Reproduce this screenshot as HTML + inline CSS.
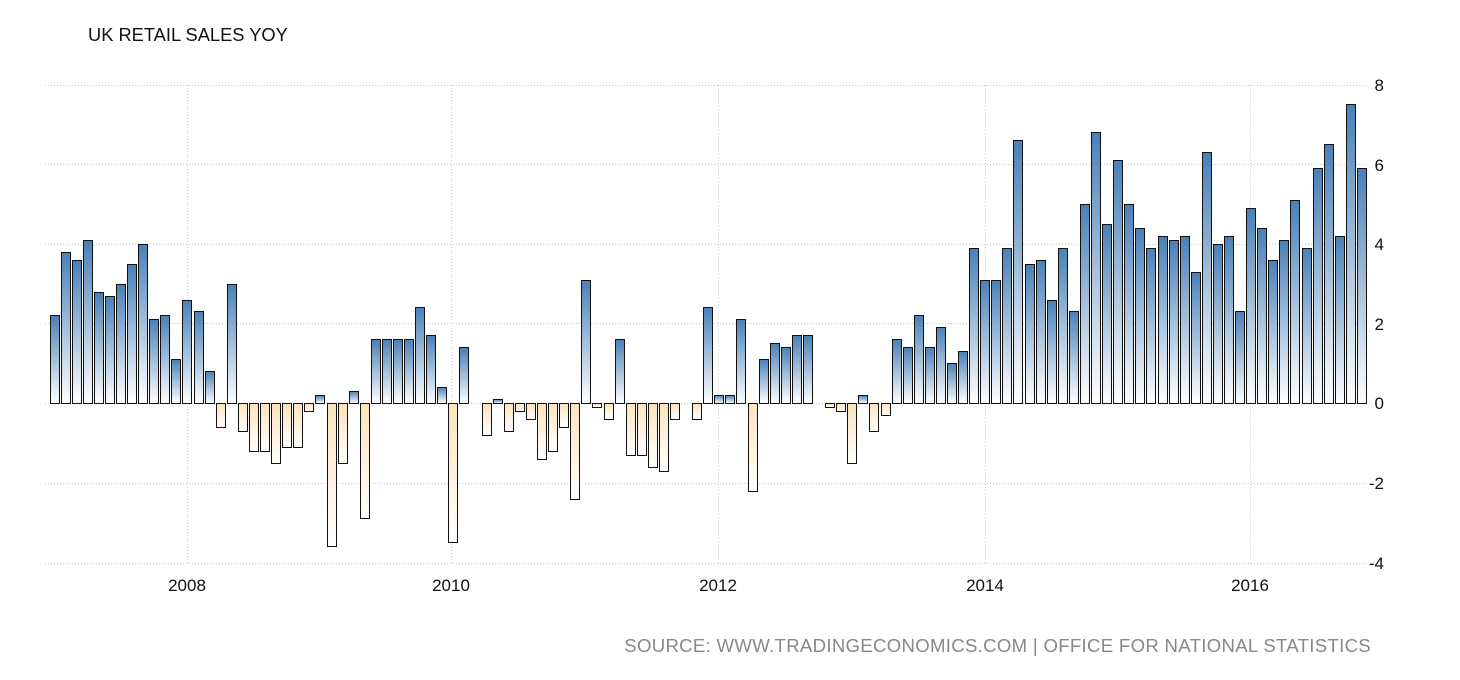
<!DOCTYPE html>
<html><head><meta charset="utf-8"><style>
body{margin:0;background:#fff;width:1460px;height:680px;overflow:hidden;font-family:"Liberation Sans",sans-serif}
svg{display:block}
</style></head><body>
<svg width="1460" height="680" xmlns="http://www.w3.org/2000/svg">
<defs>
<linearGradient id="gp" x1="0" y1="0" x2="0" y2="1"><stop offset="0" stop-color="#4a80b8"/><stop offset="1" stop-color="#ffffff"/></linearGradient>
<linearGradient id="gn" x1="0" y1="0" x2="0" y2="1"><stop offset="0" stop-color="#fbe3bd"/><stop offset="1" stop-color="#ffffff"/></linearGradient>
</defs>
<text x="88" y="41" font-size="18.3" fill="#111">UK RETAIL SALES YOY</text>
<g stroke="#ccc" stroke-dasharray="1,2">
<line x1="45" x2="1368" y1="85.5" y2="85.5"/>
<line x1="45" x2="1368" y1="164.5" y2="164.5"/>
<line x1="45" x2="1368" y1="244.5" y2="244.5"/>
<line x1="45" x2="1368" y1="323.5" y2="323.5"/>
<line x1="45" x2="1368" y1="403.5" y2="403.5"/>
<line x1="45" x2="1368" y1="483.5" y2="483.5"/>
<line x1="45" x2="1368" y1="563.5" y2="563.5"/>
<line x1="187.5" x2="187.5" y1="85" y2="563"/>
<line x1="451.5" x2="451.5" y1="85" y2="563"/>
<line x1="718.5" x2="718.5" y1="85" y2="563"/>
<line x1="985.5" x2="985.5" y1="85" y2="563"/>
<line x1="1250.5" x2="1250.5" y1="85" y2="563"/>
</g>
<g font-size="17" fill="#111" text-anchor="end">
<text x="1384" y="91">8</text>
<text x="1384" y="171">6</text>
<text x="1384" y="250">4</text>
<text x="1384" y="330">2</text>
<text x="1384" y="409">0</text>
<text x="1384" y="489">-2</text>
<text x="1384" y="569">-4</text>
</g>
<g font-size="17" fill="#111" text-anchor="middle">
<text x="187" y="591">2008</text>
<text x="451" y="591">2010</text>
<text x="718" y="591">2012</text>
<text x="985" y="591">2014</text>
<text x="1250" y="591">2016</text>
</g>
<g stroke="#111" stroke-width="1" fill="url(#gp)">
<rect x="50.5" y="315.5" width="9" height="88"/>
<rect x="61.5" y="252.5" width="9" height="151"/>
<rect x="72.5" y="260.5" width="9" height="143"/>
<rect x="83.5" y="240.5" width="9" height="163"/>
<rect x="94.5" y="292.5" width="9" height="111"/>
<rect x="105.5" y="296.5" width="9" height="107"/>
<rect x="116.5" y="284.5" width="9" height="119"/>
<rect x="127.5" y="264.5" width="9" height="139"/>
<rect x="138.5" y="244.5" width="9" height="159"/>
<rect x="149.5" y="319.5" width="9" height="84"/>
<rect x="160.5" y="315.5" width="9" height="88"/>
<rect x="171.5" y="359.5" width="9" height="44"/>
<rect x="182.5" y="300.5" width="9" height="103"/>
<rect x="194.5" y="311.5" width="9" height="92"/>
<rect x="205.5" y="371.5" width="9" height="32"/>
<rect x="227.5" y="284.5" width="9" height="119"/>
<rect x="315.5" y="395.5" width="9" height="8"/>
<rect x="349.5" y="391.5" width="9" height="12"/>
<rect x="371.5" y="339.5" width="9" height="64"/>
<rect x="382.5" y="339.5" width="9" height="64"/>
<rect x="393.5" y="339.5" width="9" height="64"/>
<rect x="404.5" y="339.5" width="9" height="64"/>
<rect x="415.5" y="307.5" width="9" height="96"/>
<rect x="426.5" y="335.5" width="9" height="68"/>
<rect x="437.5" y="387.5" width="9" height="16"/>
<rect x="459.5" y="347.5" width="9" height="56"/>
<rect x="493.5" y="399.5" width="9" height="4"/>
<rect x="581.5" y="280.5" width="9" height="123"/>
<rect x="615.5" y="339.5" width="9" height="64"/>
<rect x="703.5" y="307.5" width="9" height="96"/>
<rect x="714.5" y="395.5" width="9" height="8"/>
<rect x="725.5" y="395.5" width="9" height="8"/>
<rect x="736.5" y="319.5" width="9" height="84"/>
<rect x="759.5" y="359.5" width="9" height="44"/>
<rect x="770.5" y="343.5" width="9" height="60"/>
<rect x="781.5" y="347.5" width="9" height="56"/>
<rect x="792.5" y="335.5" width="9" height="68"/>
<rect x="803.5" y="335.5" width="9" height="68"/>
<rect x="858.5" y="395.5" width="9" height="8"/>
<rect x="892.5" y="339.5" width="9" height="64"/>
<rect x="903.5" y="347.5" width="9" height="56"/>
<rect x="914.5" y="315.5" width="9" height="88"/>
<rect x="925.5" y="347.5" width="9" height="56"/>
<rect x="936.5" y="327.5" width="9" height="76"/>
<rect x="947.5" y="363.5" width="9" height="40"/>
<rect x="958.5" y="351.5" width="9" height="52"/>
<rect x="969.5" y="248.5" width="9" height="155"/>
<rect x="980.5" y="280.5" width="9" height="123"/>
<rect x="991.5" y="280.5" width="9" height="123"/>
<rect x="1002.5" y="248.5" width="9" height="155"/>
<rect x="1013.5" y="140.5" width="9" height="263"/>
<rect x="1025.5" y="264.5" width="9" height="139"/>
<rect x="1036.5" y="260.5" width="9" height="143"/>
<rect x="1047.5" y="300.5" width="9" height="103"/>
<rect x="1058.5" y="248.5" width="9" height="155"/>
<rect x="1069.5" y="311.5" width="9" height="92"/>
<rect x="1080.5" y="204.5" width="9" height="199"/>
<rect x="1091.5" y="132.5" width="9" height="271"/>
<rect x="1102.5" y="224.5" width="9" height="179"/>
<rect x="1113.5" y="160.5" width="9" height="243"/>
<rect x="1124.5" y="204.5" width="9" height="199"/>
<rect x="1135.5" y="228.5" width="9" height="175"/>
<rect x="1146.5" y="248.5" width="9" height="155"/>
<rect x="1158.5" y="236.5" width="9" height="167"/>
<rect x="1169.5" y="240.5" width="9" height="163"/>
<rect x="1180.5" y="236.5" width="9" height="167"/>
<rect x="1191.5" y="272.5" width="9" height="131"/>
<rect x="1202.5" y="152.5" width="9" height="251"/>
<rect x="1213.5" y="244.5" width="9" height="159"/>
<rect x="1224.5" y="236.5" width="9" height="167"/>
<rect x="1235.5" y="311.5" width="9" height="92"/>
<rect x="1246.5" y="208.5" width="9" height="195"/>
<rect x="1257.5" y="228.5" width="9" height="175"/>
<rect x="1268.5" y="260.5" width="9" height="143"/>
<rect x="1279.5" y="240.5" width="9" height="163"/>
<rect x="1290.5" y="200.5" width="9" height="203"/>
<rect x="1302.5" y="248.5" width="9" height="155"/>
<rect x="1313.5" y="168.5" width="9" height="235"/>
<rect x="1324.5" y="144.5" width="9" height="259"/>
<rect x="1335.5" y="236.5" width="9" height="167"/>
<rect x="1346.5" y="104.5" width="9" height="299"/>
<rect x="1357.5" y="168.5" width="9" height="235"/>
</g>
<g stroke="#111" stroke-width="1" fill="url(#gn)">
<rect x="216.5" y="403.5" width="9" height="24"/>
<rect x="238.5" y="403.5" width="9" height="28"/>
<rect x="249.5" y="403.5" width="9" height="48"/>
<rect x="260.5" y="403.5" width="9" height="48"/>
<rect x="271.5" y="403.5" width="9" height="60"/>
<rect x="282.5" y="403.5" width="9" height="44"/>
<rect x="293.5" y="403.5" width="9" height="44"/>
<rect x="304.5" y="403.5" width="9" height="8"/>
<rect x="327.5" y="403.5" width="9" height="143"/>
<rect x="338.5" y="403.5" width="9" height="60"/>
<rect x="360.5" y="403.5" width="9" height="115"/>
<rect x="448.5" y="403.5" width="9" height="139"/>
<rect x="482.5" y="403.5" width="9" height="32"/>
<rect x="504.5" y="403.5" width="9" height="28"/>
<rect x="515.5" y="403.5" width="9" height="8"/>
<rect x="526.5" y="403.5" width="9" height="16"/>
<rect x="537.5" y="403.5" width="9" height="56"/>
<rect x="548.5" y="403.5" width="9" height="48"/>
<rect x="559.5" y="403.5" width="9" height="24"/>
<rect x="570.5" y="403.5" width="9" height="96"/>
<rect x="592.5" y="403.5" width="9" height="4"/>
<rect x="604.5" y="403.5" width="9" height="16"/>
<rect x="626.5" y="403.5" width="9" height="52"/>
<rect x="637.5" y="403.5" width="9" height="52"/>
<rect x="648.5" y="403.5" width="9" height="64"/>
<rect x="659.5" y="403.5" width="9" height="68"/>
<rect x="670.5" y="403.5" width="9" height="16"/>
<rect x="692.5" y="403.5" width="9" height="16"/>
<rect x="748.5" y="403.5" width="9" height="88"/>
<rect x="825.5" y="403.5" width="9" height="4"/>
<rect x="836.5" y="403.5" width="9" height="8"/>
<rect x="847.5" y="403.5" width="9" height="60"/>
<rect x="869.5" y="403.5" width="9" height="28"/>
<rect x="881.5" y="403.5" width="9" height="12"/>
</g>
<text x="1371" y="652" font-size="18.6" fill="#888" text-anchor="end" letter-spacing="0.3">SOURCE: WWW.TRADINGECONOMICS.COM | OFFICE FOR NATIONAL STATISTICS</text>
</svg>
</body></html>
